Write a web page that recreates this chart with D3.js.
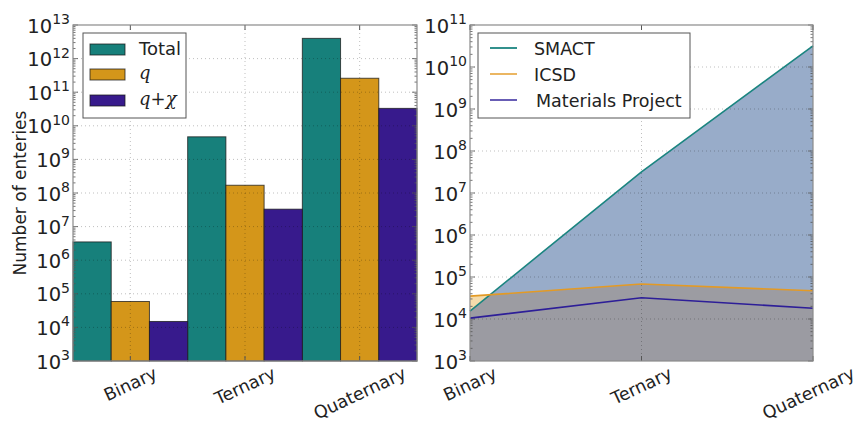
<!DOCTYPE html>
<html>
<head>
<meta charset="utf-8">
<script src="https://cdn.jsdelivr.net/npm/d3@7"></script>
<style>
  body { margin: 0; background: #fff; }
  svg { display: block; font-family: "DejaVu Sans", sans-serif; }
</style>
</head>
<body>
<div id="chart"></div>
<script>
// data
const categories = ["Binary", "Ternary", "Quaternary"];
const totalCounts = [3.5e6, 4.7e9, 4.0e12];
const qCounts = [5.9e4, 1.7e8, 2.6e11];
const qChiCounts = [1.5e4, 3.3e7, 3.3e10];
const smactCounts = [1.55e4, 3.2e7, 3.2e10];
const icsdCounts = [3.5e4, 6.8e4, 4.7e4];
const mpCounts = [1.05e4, 3.2e4, 1.8e4];
const leftExponents = [3, 4, 5, 6, 7, 8, 9, 10, 11, 12, 13];
const rightExponents = [3, 4, 5, 6, 7, 8, 9, 10, 11];

const W = 858, H = 424;
const teal = "#17807b", gold = "#d4961a", purple = "#371a8c";
const frameColor = "#8a8a8a";

const svg = d3.select("#chart").append("svg").attr("width", W).attr("height", H);

function logAxis(g, y, x0, x1, exps) {
  // grid
  g.append("g").selectAll("line").data(exps.slice(1, -1)).join("line")
    .attr("x1", x0).attr("x2", x1)
    .attr("y1", e => y(Math.pow(10, e))).attr("y2", e => y(Math.pow(10, e)))
    .attr("stroke", "#000").attr("stroke-opacity", 0.25)
    .attr("stroke-dasharray", "1,3");
  // minor + major ticks inside on both sides
  const minors = [];
  exps.slice(0, -1).forEach(e => { for (let k = 2; k < 10; k++) minors.push(k * Math.pow(10, e)); });
  [[x0, 1], [x1, -1]].forEach(([xs, dir]) => {
    g.append("g").selectAll("line").data(minors).join("line")
      .attr("x1", xs).attr("x2", xs + dir * 2.5)
      .attr("y1", d => y(d)).attr("y2", d => y(d))
      .attr("stroke", "#555").attr("stroke-width", 0.8);
    g.append("g").selectAll("line").data(exps).join("line")
      .attr("x1", xs).attr("x2", xs + dir * 5)
      .attr("y1", e => y(Math.pow(10, e))).attr("y2", e => y(Math.pow(10, e)))
      .attr("stroke", "#555").attr("stroke-width", 0.8);
  });
  // labels
  const lab = g.append("g").selectAll("text").data(exps).join("text")
    .attr("x", x0 - 3)
    .attr("y", e => y(Math.pow(10, e)) + 7.5)
    .attr("text-anchor", "end")
    .attr("fill", "#222")
    .style("font-size", "19.5px");
  lab.append("tspan").text("10");
  lab.append("tspan").attr("dy", -8.5).style("font-size", "14px").text(e => e);
}

function xLabels(g, xs, yTop) {
  categories.forEach((c, i) => {
    const t = g.append("text")
      .attr("text-anchor", "middle")
      .attr("fill", "#222")
      .style("font-size", "17.5px")
      .text(c);
    const w = t.node().getComputedTextLength();
    const a = 25 * Math.PI / 180;
    const h = 17.5 * 0.9;
    const halfH = (w * Math.sin(a) + h * Math.cos(a)) / 2;
    const halfW = (w * Math.cos(a) + h * Math.sin(a)) / 2;
    const cx = Math.min(xs[i], W - 1 - halfW);
    t.attr("transform", `translate(${cx},${yTop + halfH}) rotate(-25)`).attr("dy", "0.35em");
  });
}

function frame(g, x0, x1, y0, y1) {
  g.append("rect").attr("x", x0).attr("y", y0)
    .attr("width", x1 - x0).attr("height", y1 - y0)
    .attr("fill", "none").attr("stroke", frameColor).attr("stroke-width", 1.2);
}

// ---------- left: bar chart ----------
{
  const x0 = 73, x1 = 417, y0 = 25, y1 = 361;
  const g = svg.append("g");
  const y = d3.scaleLog().domain([1e3, 1e13]).range([y1, y0]);
  const xGroup = d3.scaleBand().domain(categories).range([x0, x1]).padding(0);
  const series = [
    { key: "Total", values: totalCounts, color: teal },
    { key: "q", values: qCounts, color: gold },
    { key: "qchi", values: qChiCounts, color: purple }
  ];
  const xSub = d3.scaleBand().domain(series.map(s => s.key)).range([0, xGroup.bandwidth()]).padding(0);

  series.forEach(s => {
    g.append("g").selectAll("rect").data(categories).join("rect")
      .attr("x", c => xGroup(c) + xSub(s.key))
      .attr("width", xSub.bandwidth())
      .attr("y", (c, i) => y(s.values[i]))
      .attr("height", (c, i) => y1 - y(s.values[i]))
      .attr("fill", s.color)
      .attr("stroke", "#1a1a1a").attr("stroke-opacity", 0.75).attr("stroke-width", 1);
  });

  logAxis(g, y, x0, x1, leftExponents);
  const centers = categories.map(c => xGroup(c) + xGroup.bandwidth() / 2);
  g.append("g").selectAll("line").data(centers).join("line")
    .attr("x1", d => d).attr("x2", d => d).attr("y1", y0).attr("y2", y1)
    .attr("stroke", "#000").attr("stroke-opacity", 0.25).attr("stroke-dasharray", "1,3");
  centers.forEach(cx => {
    g.append("line").attr("x1", cx).attr("x2", cx).attr("y1", y1).attr("y2", y1 - 5).attr("stroke", "#555");
    g.append("line").attr("x1", cx).attr("x2", cx).attr("y1", y0).attr("y2", y0 + 5).attr("stroke", "#555");
  });
  frame(g, x0, x1, y0, y1);
  xLabels(g, centers, 365);

  g.append("text")
    .attr("transform", `translate(26,193) rotate(-90)`)
    .attr("text-anchor", "middle")
    .attr("fill", "#222")
    .style("font-size", "17px")
    .text("Number of enteries");

  // legend
  const lg = g.append("g");
  lg.append("rect").attr("x", 83).attr("y", 33).attr("width", 103).attr("height", 85)
    .attr("fill", "#fff").attr("stroke", "#555").attr("stroke-width", 1);
  const rows = [44, 69, 95];
  series.forEach((s, i) => {
    lg.append("rect").attr("x", 90).attr("y", rows[i]).attr("width", 35).attr("height", 11)
      .attr("fill", s.color).attr("stroke", "#1a1a1a").attr("stroke-opacity", 0.75);
  });
  lg.append("text").attr("x", 139).attr("y", 55).style("font-size", "18px").attr("fill", "#222").text("Total");
  lg.append("text").attr("x", 139).attr("y", 79)
    .style("font-family", "'DejaVu Serif', serif").style("font-style", "italic")
    .style("font-size", "18px").attr("fill", "#222").text("q");
  const qc = lg.append("text").attr("x", 139).attr("y", 105)
    .style("font-family", "'DejaVu Serif', serif").style("font-size", "18px").attr("fill", "#222");
  qc.append("tspan").style("font-style", "italic").text("q");
  qc.append("tspan").text("+");
  qc.append("tspan").style("font-style", "italic").text("χ");
}

// ---------- right: area/line chart ----------
{
  const x0 = 470, x1 = 813, y0 = 25, y1 = 361;
  const g = svg.append("g");
  const y = d3.scaleLog().domain([1e3, 1e11]).range([y1, y0]);
  const x = d3.scalePoint().domain(categories).range([x0, x1]).padding(0);

  const area = vals => d3.area()
    .x((c, i) => x(c)).y0(y1).y1((c, i) => y(vals[i]))(categories);
  const line = vals => d3.line()
    .x((c, i) => x(c)).y((c, i) => y(vals[i]))(categories);

  g.append("clipPath").attr("id", "icsdClip")
    .append("path").attr("d", area(icsdCounts));

  g.append("path").attr("d", area(smactCounts)).attr("fill", "#98acc9");
  g.append("path").attr("d", area(icsdCounts)).attr("fill", "#f4dbab");
  g.append("path").attr("d", area(smactCounts)).attr("fill", "#9c9ca2").attr("clip-path", "url(#icsdClip)");
  g.append("path").attr("d", area(mpCounts)).attr("fill", "#9b9ba2");

  logAxis(g, y, x0, x1, rightExponents);
  g.append("line").attr("x1", x("Ternary")).attr("x2", x("Ternary")).attr("y1", y0).attr("y2", y1)
    .attr("stroke", "#000").attr("stroke-opacity", 0.25).attr("stroke-dasharray", "1,3");
  categories.forEach(c => {
    g.append("line").attr("x1", x(c)).attr("x2", x(c)).attr("y1", y1).attr("y2", y1 - 5).attr("stroke", "#555");
    g.append("line").attr("x1", x(c)).attr("x2", x(c)).attr("y1", y0).attr("y2", y0 + 5).attr("stroke", "#555");
  });

  const lines = [
    { name: "SMACT", values: smactCounts, color: "#1b8580" },
    { name: "ICSD", values: icsdCounts, color: "#e39a25" },
    { name: "Materials Project", values: mpCounts, color: "#2d1e98" }
  ];
  lines.forEach(l => {
    g.append("path").attr("d", line(l.values)).attr("fill", "none")
      .attr("stroke", l.color).attr("stroke-width", 1.6);
  });
  frame(g, x0, x1, y0, y1);
  xLabels(g, categories.map(c => x(c)), 365);

  const lg = g.append("g");
  lg.append("rect").attr("x", 478).attr("y", 33).attr("width", 212).attr("height", 85)
    .attr("fill", "#fff").attr("stroke", "#555").attr("stroke-width", 1);
  const rows = [48, 74, 100];
  lines.forEach((l, i) => {
    lg.append("line").attr("x1", 490).attr("x2", 517).attr("y1", rows[i]).attr("y2", rows[i])
      .attr("stroke", l.color).attr("stroke-width", 1.8).attr("stroke-opacity", i === 0 ? 1 : 0.8);
    lg.append("text").attr("x", i === 2 ? 536 : 534).attr("y", rows[i] + 6.5)
      .style("font-size", "17.5px").attr("fill", "#222").text(l.name);
  });
}
</script>
</body>
</html>
